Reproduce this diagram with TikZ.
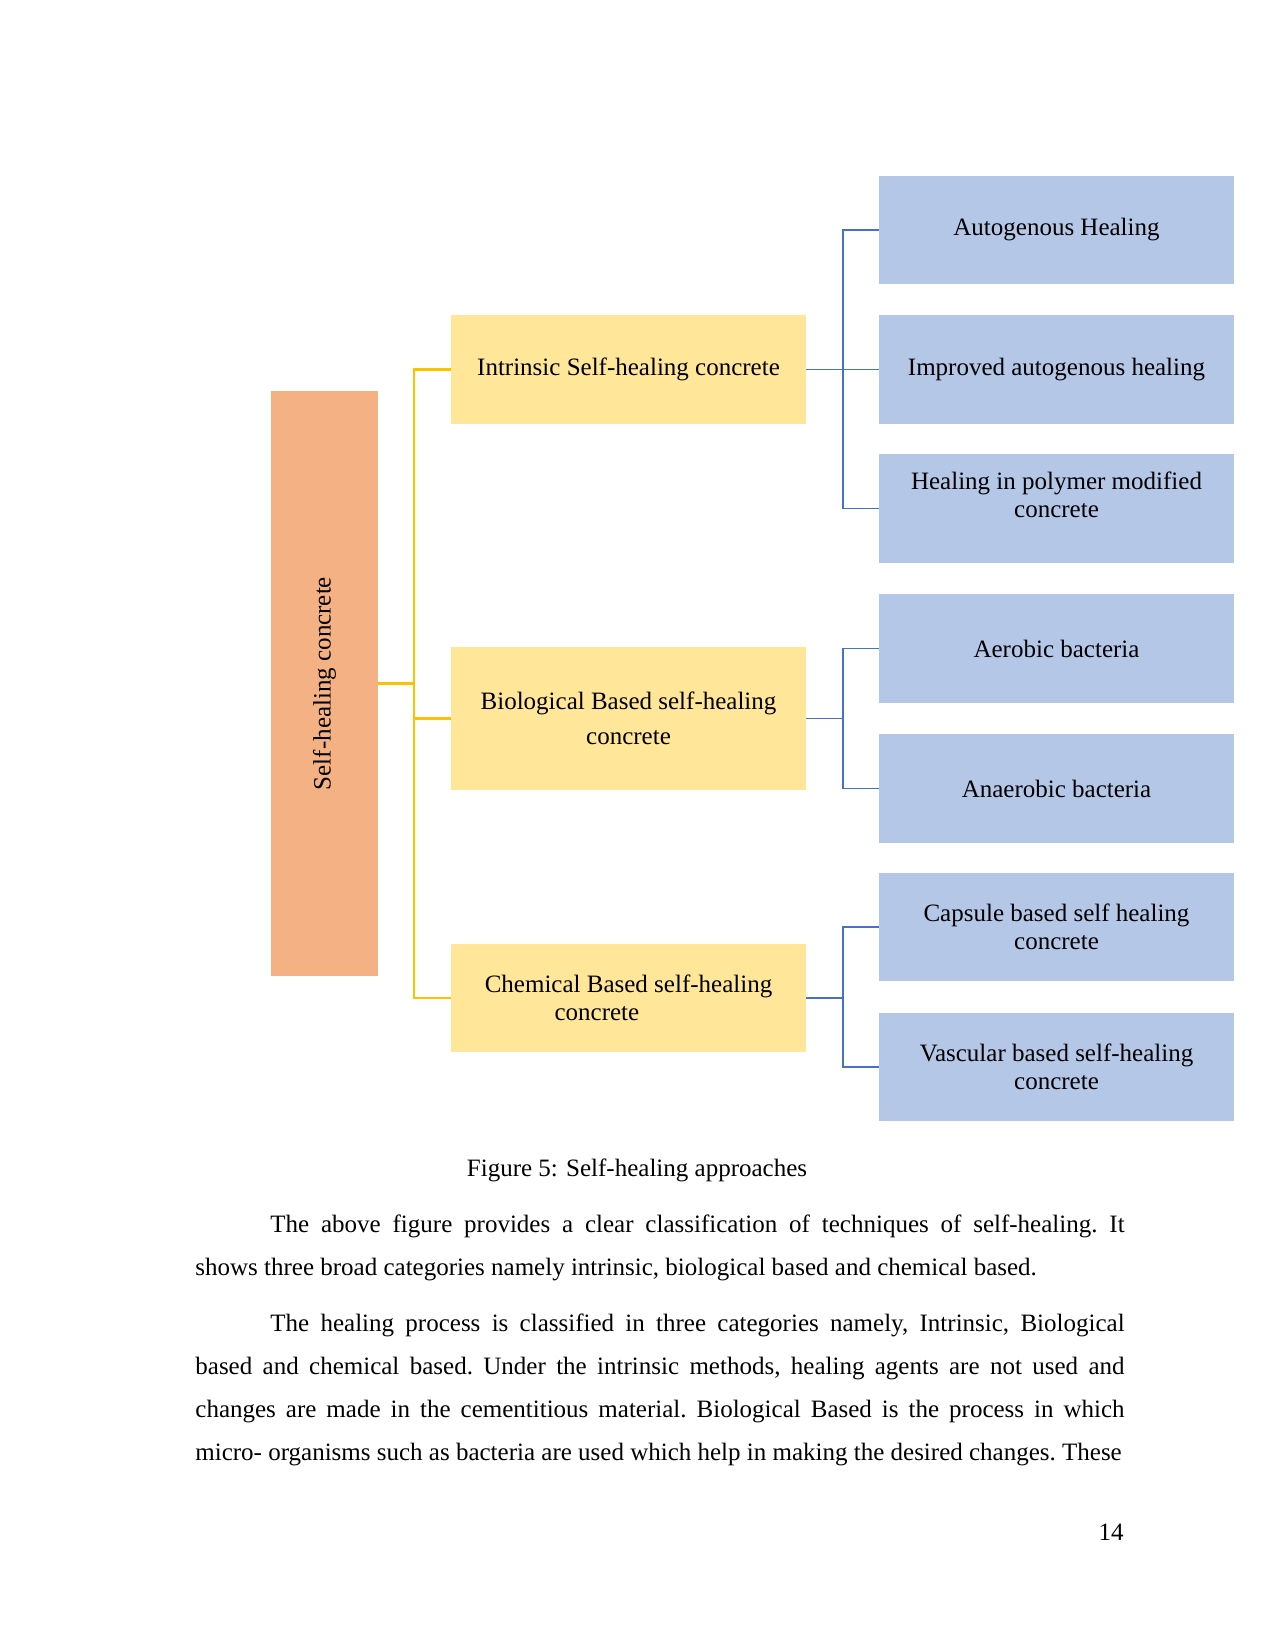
\documentclass[tikz,border=0pt]{standalone}
\usepackage{fontspec}
\setmainfont{Liberation Serif}
\usetikzlibrary{positioning, calc}

\definecolor{rootorange}{HTML}{F4B183}
\definecolor{catyellow}{HTML}{FFE699}
\definecolor{leafblue}{HTML}{B4C7E7}
\definecolor{lineyellow}{HTML}{FFC000}
\definecolor{lineblue}{HTML}{4472C4}

\begin{document}
\begin{tikzpicture}[x=0.48pt, y=-0.48pt,
    every node/.style={font=\fontsize{12}{13.2}\selectfont},
    rootbox/.style={rectangle, fill=rootorange, minimum width=51.4pt, minimum height=280.8pt, inner sep=0pt},
    catbox/.style={rectangle, fill=catyellow, minimum width=170.4pt, minimum height=52.3pt, inner sep=2pt, align=center},
    leafbox/.style={rectangle, fill=leafblue, minimum width=170.4pt, minimum height=52.3pt, inner sep=2pt, align=center},
    yline/.style={draw=lineyellow, line width=1.3pt},
    bline/.style={draw=lineblue, line width=0.8pt},
    bodytext/.style={anchor=north west, inner sep=0pt, text width=446pt, align=justify, font=\fontsize{12}{20.7}\selectfont}
]
    \useasboundingbox (0,0) rectangle (1275,1650);

    % Root
    \node (root) [rootbox] at (324.5, 683.5) {};
    \node (rootlabel) [rotate=90] at (root.center) {Self-healing concrete};

    % Categories
    \node (intr) [catbox] at (628.5, 369.5) {Intrinsic Self-healing concrete};
    \node (bio) [catbox, minimum height=68.6pt] at (628.5, 718.5) {Biological Based self-healing\\[3.5pt]concrete};
    \node (chem) [catbox, align=left] at (628.5, 998) {Chemical Based self-healing\\\hspace*{33.5pt}concrete};

    % Methods
    \node (auto) [leafbox] at (1056.5, 230) {Autogenous Healing};
    \node (impr) [leafbox] at (1056.5, 369.5) {Improved autogenous healing};
    \node (poly) [leafbox] at (1056.5, 508.5) {Healing in polymer modified\\concrete\\\mbox{}};
    \node (aer) [leafbox] at (1056.5, 648.5) {Aerobic bacteria};
    \node (anaer) [leafbox] at (1056.5, 788.5) {Anaerobic bacteria};
    \node (caps) [leafbox] at (1056.5, 927) {Capsule based self healing\\concrete};
    \node (vasc) [leafbox] at (1056.5, 1067) {Vascular based self-healing\\concrete};

    % Root to categories
    \coordinate (ytrunk) at (414, 683.5);
    \draw [yline] (root.east) -- (ytrunk);
    \draw [yline] (intr.west) -| (ytrunk) |- (chem.west);
    \draw [yline] (bio.west) -- (bio.west -| ytrunk);

    % Categories to methods
    \coordinate (btrunk) at (843, 0);
    \draw [bline] (intr.east) -- (impr.west);
    \draw [bline] (auto.west) -- (auto.west -| btrunk) |- (poly.west);
    \draw [bline] (bio.east) -- (bio.east -| btrunk);
    \draw [bline] (aer.west) -- (aer.west -| btrunk) |- (anaer.west);
    \draw [bline] (chem.east) -- (chem.east -| btrunk);
    \draw [bline] (caps.west) -- (caps.west -| btrunk) |- (vasc.west);

    % Caption and text
    \node (caption) [anchor=base, inner sep=0pt] at (637, 1176) {Figure 5: Self-healing approaches};
    \node (para1) [bodytext] at (195, 1214) {\frenchspacing\hyphenpenalty=10000\hspace*{36pt}The above figure provides a clear classification of techniques of self-healing. It\linebreak shows three broad categories namely intrinsic, biological based and chemical based.};
    \node (para2) [bodytext] at (195, 1313) {\frenchspacing\hyphenpenalty=10000\parfillskip=0pt\hspace*{36pt}The healing process is classified in three categories namely, Intrinsic, Biological\linebreak based and chemical based. Under the intrinsic methods, healing agents are not used and\linebreak changes are made in the cementitious material. Biological Based is the process in which\linebreak micro- organisms such as bacteria are used which help in making the desired changes. These};
    \node (pagenum) [anchor=base east, inner sep=0pt] at (1124, 1540) {14};
\end{tikzpicture}
\end{document}
